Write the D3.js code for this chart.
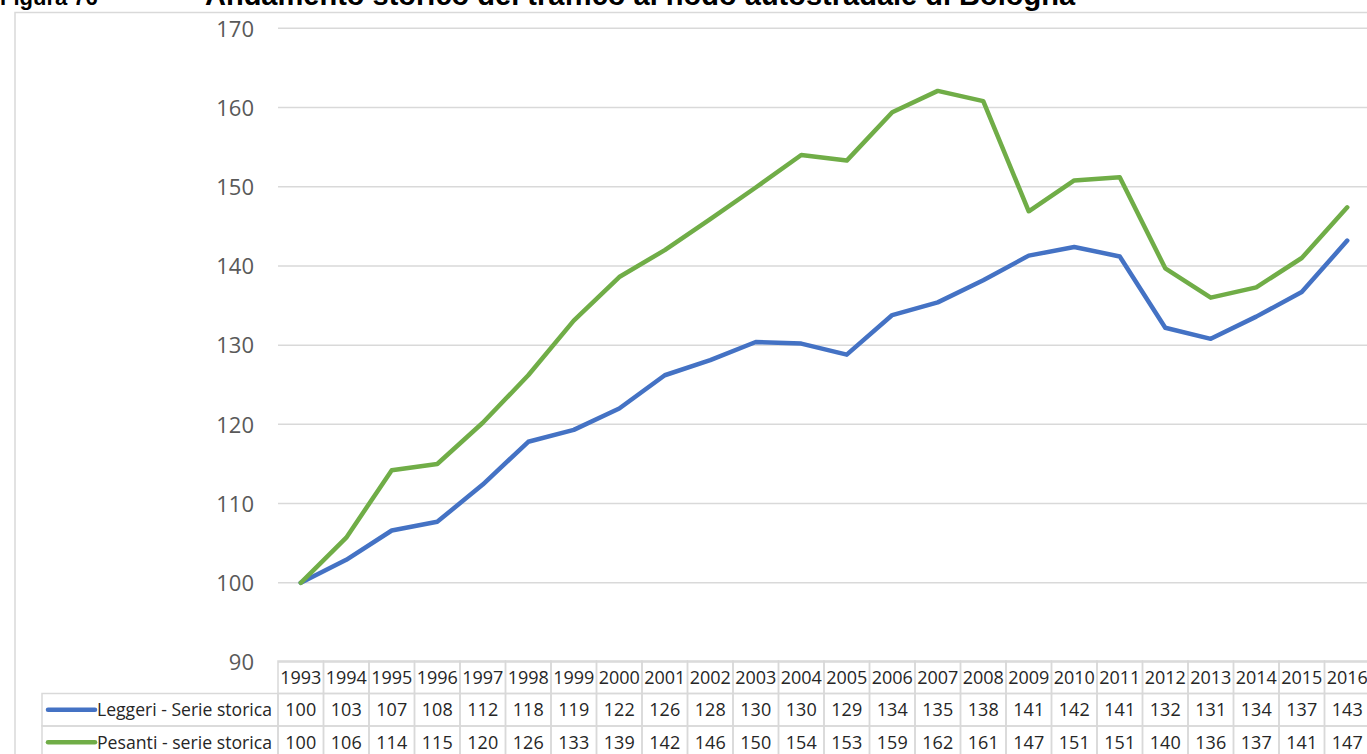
<!DOCTYPE html>
<html>
<head>
<meta charset="utf-8">
<script src="https://cdn.jsdelivr.net/npm/d3@7"></script>
<style>
  html, body { margin: 0; padding: 0; background: #fff; overflow: hidden; }
  svg { display: block; }
</style>
</head>
<body>
<svg id="chart" width="1367" height="754"></svg>
<script>
const years = ["1993","1994","1995","1996","1997","1998","1999","2000","2001","2002","2003","2004",
  "2005","2006","2007","2008","2009","2010","2011","2012","2013","2014","2015","2016"];

const leggeri = [100, 102.9, 106.6, 107.7, 112.4, 117.8, 119.3, 122.0, 126.2, 128.1, 130.4, 130.2,
  128.8, 133.8, 135.4, 138.2, 141.3, 142.4, 141.2, 132.2, 130.8, 133.6, 136.7, 143.2];
const pesanti = [100, 105.7, 114.2, 115.0, 120.2, 126.2, 133.1, 138.6, 142.0, 145.9, 149.9, 154.0,
  153.3, 159.4, 162.1, 160.8, 146.9, 150.8, 151.2, 139.7, 136.0, 137.3, 141.0, 147.4];

const leggeriTable = [100,103,107,108,112,118,119,122,126,128,130,130,129,134,135,138,141,142,141,132,131,134,137,143];
const pesantiTable = [100,106,114,115,120,126,133,139,142,146,150,154,153,159,162,161,147,151,151,140,136,137,141,147];

const yTicks = [90, 100, 110, 120, 130, 140, 150, 160, 170];

const series = [
  { name: "Leggeri - Serie storica", values: leggeri, table: leggeriTable, color: "#4472C4" },
  { name: "Pesanti - serie storica", values: pesanti, table: pesantiTable, color: "#70AD47" }
];

const width = 1367;
const plotLeft = 278;
const colW = 45.5;
const legendLeft = 42;
const gridColor = "#d9d9d9";

const svg = d3.select("#chart");

// title (cut off at the top in the original)
svg.append("text")
  .attr("x", 0).attr("y", 5)
  .attr("font-family", "Liberation Sans, Arial, sans-serif")
  .attr("font-weight", "bold").attr("font-size", 22)
  .attr("fill", "#000")
  .text("Figura 76");
svg.append("text")
  .attr("x", 205).attr("y", 5)
  .attr("font-family", "Liberation Sans, Arial, sans-serif")
  .attr("font-weight", "bold").attr("font-size", 29)
  .attr("fill", "#000")
  .text("Andamento storico del traffico al nodo autostradale di Bologna");

// chart border
svg.append("path")
  .attr("d", `M15,${754}V12.5H${width}`)
  .attr("fill", "none").attr("stroke", gridColor).attr("stroke-width", 1.5);

const x = d3.scaleBand()
  .domain(years)
  .range([plotLeft, plotLeft + colW * years.length])
  .padding(0);

const y = d3.scaleLinear()
  .domain([90, 170])
  .range([662, 28.3]);

// gridlines
svg.append("g")
  .selectAll("line")
  .data(yTicks)
  .enter().append("line")
  .attr("x1", plotLeft).attr("x2", width)
  .attr("y1", d => y(d)).attr("y2", d => y(d))
  .attr("stroke", gridColor).attr("stroke-width", 1.5);

// y axis labels
const yAxis = d3.axisLeft(y).tickValues(yTicks).tickSize(0).tickPadding(0);
const yg = svg.append("g")
  .attr("transform", "translate(254,0)")
  .call(yAxis);
yg.select(".domain").remove();
yg.selectAll("text")
  .attr("font-family", "Open Sans, sans-serif")
  .attr("font-size", 22)
  .attr("fill", "#595959")
  .attr("dy", "0.35em");

// lines
const line = d3.line()
  .x((d, i) => x(years[i]) + x.bandwidth() / 2)
  .y(d => y(d));

svg.append("g")
  .selectAll("path")
  .data(series)
  .enter().append("path")
  .attr("d", d => line(d.values))
  .attr("fill", "none")
  .attr("stroke", d => d.color)
  .attr("stroke-width", 4.5)
  .attr("stroke-linejoin", "round")
  .attr("stroke-linecap", "round");

// data table
const rowTop = [661, 693.5, 726];
const rowH = 32.5;
const table = svg.append("g");
const tableFont = "Open Sans, sans-serif";

// header row (years)
table.selectAll(".yearcell")
  .data(years)
  .enter().append("rect")
  .attr("class", "yearcell")
  .attr("x", d => x(d)).attr("y", rowTop[0])
  .attr("width", x.bandwidth()).attr("height", rowH)
  .attr("fill", "none").attr("stroke", gridColor).attr("stroke-width", 1.5);

table.selectAll(".yeartext")
  .data(years)
  .enter().append("text")
  .attr("class", "yeartext")
  .attr("x", d => x(d) + x.bandwidth() / 2)
  .attr("y", rowTop[0] + rowH / 2)
  .attr("dy", "0.35em")
  .attr("text-anchor", "middle")
  .attr("font-family", tableFont).attr("font-size", 18)
  .attr("fill", "#262626")
  .text(d => d);

series.forEach((s, si) => {
  const top = rowTop[si + 1];
  const g = table.append("g");

  g.append("rect")
    .attr("x", legendLeft).attr("y", top)
    .attr("width", plotLeft - legendLeft).attr("height", rowH)
    .attr("fill", "none").attr("stroke", gridColor).attr("stroke-width", 1.5);

  g.append("line")
    .attr("x1", 48).attr("x2", 95)
    .attr("y1", top + rowH / 2).attr("y2", top + rowH / 2)
    .attr("stroke", s.color).attr("stroke-width", 4.5)
    .attr("stroke-linecap", "round");

  g.append("text")
    .attr("x", 97).attr("y", top + rowH / 2)
    .attr("dy", "0.35em")
    .attr("font-family", tableFont).attr("font-size", 18)
    .attr("textLength", 175).attr("lengthAdjust", "spacingAndGlyphs")
    .attr("fill", "#262626")
    .text(s.name);

  g.selectAll("rect.cell")
    .data(years)
    .enter().append("rect")
    .attr("class", "cell")
    .attr("x", d => x(d)).attr("y", top)
    .attr("width", x.bandwidth()).attr("height", rowH)
    .attr("fill", "none").attr("stroke", gridColor).attr("stroke-width", 1.5);

  g.selectAll("text.val")
    .data(s.table)
    .enter().append("text")
    .attr("class", "val")
    .attr("x", (d, i) => x(years[i]) + x.bandwidth() / 2)
    .attr("y", top + rowH / 2)
    .attr("dy", "0.35em")
    .attr("text-anchor", "middle")
    .attr("font-family", tableFont).attr("font-size", 18)
    .attr("fill", "#262626")
    .text(d => d);
});
</script>
</body>
</html>
